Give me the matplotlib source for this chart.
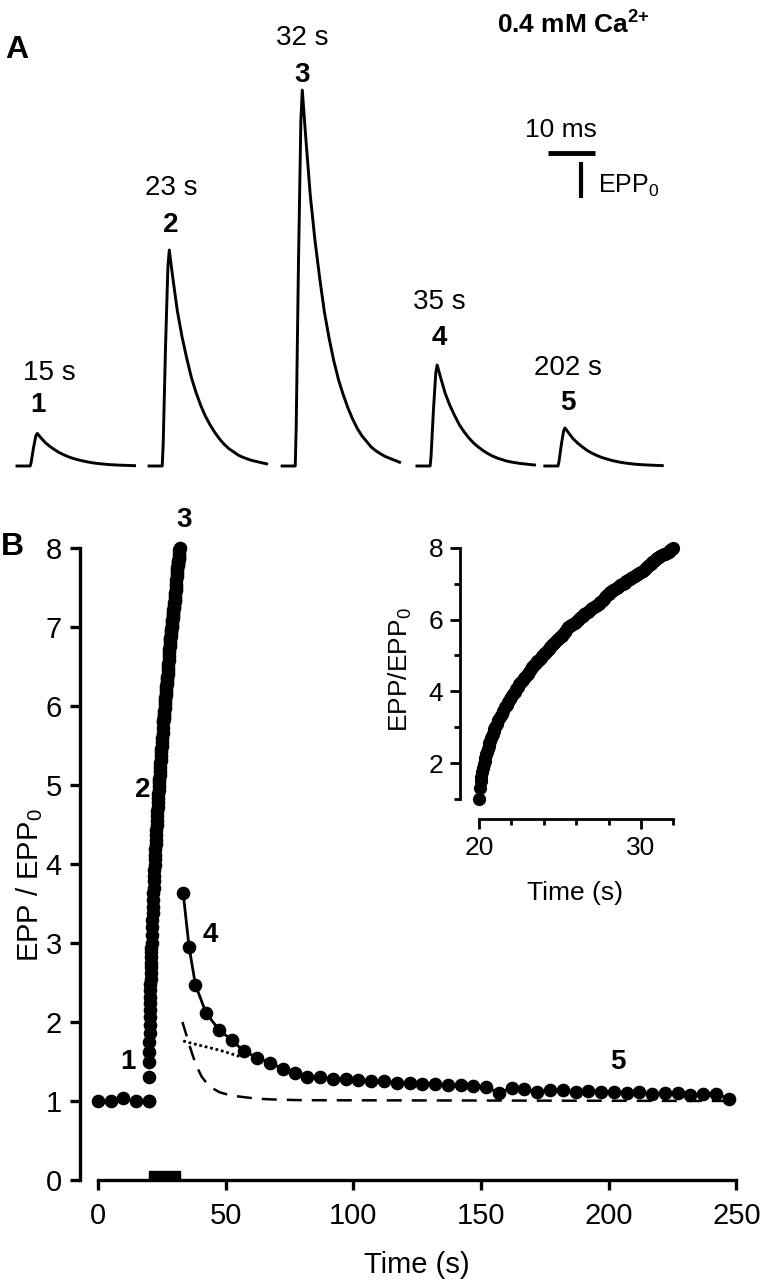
import matplotlib
matplotlib.use("Agg")
import matplotlib.pyplot as plt
from matplotlib import font_manager
from matplotlib.patches import Rectangle

names = {f.name for f in font_manager.fontManager.ttflist}
NARROW = "Liberation Sans Narrow" if "Liberation Sans Narrow" in names else "Liberation Sans"
plt.rcParams["font.family"] = ["Liberation Sans", "DejaVu Sans"]
plt.rcParams["mathtext.fontset"] = "custom"
plt.rcParams["mathtext.rm"] = "Liberation Sans"
plt.rcParams["mathtext.bf"] = "Liberation Sans:bold"
plt.rcParams["mathtext.it"] = "Liberation Sans:italic"

W, H = 761, 1280

# ---- panel A: EPP waveform (normalised to peak), time in ms
wave_t = [0, 1, 2, 2.8, 3.0, 3.5, 4.0, 4.3, 5, 6, 7, 8, 9, 10, 11, 12, 13, 14, 15,
          16, 17, 18, 19, 20, 21, 22, 23, 24, 25]
wave_v = [0, 0, 0, 0, 0.10, 0.55, 0.92, 1.00, 0.88, 0.72, 0.60, 0.50, 0.41, 0.34,
          0.28, 0.23, 0.19, 0.155, 0.125, 0.10, 0.08, 0.065, 0.05, 0.04, 0.032,
          0.025, 0.02, 0.015, 0.01]
trace_nums = ["1", "2", "3", "4", "5"]
trace_secs = ["15 s", "23 s", "32 s", "35 s", "202 s"]
trace_amp = [0.89, 5.9, 10.27, 2.76, 1.04]      # in EPP0 units
trace_start = [0.0, 28.1, 56.4, 85.1, 112.3]    # layout offsets, ms
scale_ms = 10
scale_epp = 1

# ---- panel B
base_t = [0, 5, 10, 15, 20]
base_v = [1.00, 1.00, 1.04, 1.00, 1.00]

# responses during the train (20-32 s)
train_t = [20.00, 20.05, 20.10, 20.15, 20.20, 20.25, 20.30, 20.35, 20.40, 20.45,
           20.50, 20.55, 20.60, 20.65, 20.70, 20.75, 20.80, 20.85, 20.90, 20.95,
           21.0, 21.1, 21.2, 21.3, 21.4, 21.5, 21.6, 21.7, 21.8, 21.9,
           22.0, 22.1, 22.2, 22.3, 22.4, 22.5, 22.6, 22.7, 22.8, 22.9,
           23.0, 23.1, 23.2, 23.3, 23.4, 23.5, 23.6, 23.7, 23.8, 23.9,
           24.0, 24.1, 24.2, 24.3, 24.4, 24.5, 24.6, 24.7, 24.8, 24.9,
           25.0, 25.1, 25.2, 25.3, 25.4, 25.5, 25.6, 25.7, 25.8, 25.9,
           26.0, 26.1, 26.2, 26.3, 26.4, 26.5, 26.6, 26.7, 26.8, 26.9,
           27.0, 27.1, 27.2, 27.3, 27.4, 27.5, 27.6, 27.7, 27.8, 27.9,
           28.0, 28.1, 28.2, 28.3, 28.4, 28.5, 28.6, 28.7, 28.8, 28.9,
           29.0, 29.1, 29.2, 29.3, 29.4, 29.5, 29.6, 29.7, 29.8, 29.9,
           30.0, 30.1, 30.2, 30.3, 30.4, 30.5, 30.6, 30.7, 30.8, 30.9,
           31.0, 31.1, 31.2, 31.3, 31.4, 31.5, 31.6, 31.7, 31.8, 31.9, 32.0]
train_v = [1.00, 1.30, 1.50, 1.62, 1.75, 1.86, 1.96, 2.06, 2.15, 2.24,
           2.32, 2.40, 2.48, 2.55, 2.62, 2.69, 2.75, 2.82, 2.88, 2.94,
           3.00, 3.10, 3.20, 3.29, 3.38, 3.46, 3.55, 3.63, 3.70, 3.78,
           3.85, 3.92, 3.99, 4.06, 4.12, 4.19, 4.25, 4.31, 4.37, 4.43,
           4.49, 4.55, 4.61, 4.67, 4.72, 4.78, 4.83, 4.88, 4.94, 4.99,
           5.04, 5.08, 5.13, 5.18, 5.23, 5.28, 5.32, 5.37, 5.42, 5.46,
           5.50, 5.55, 5.60, 5.66, 5.72, 5.80, 5.82, 5.84, 5.87, 5.90,
           5.94, 5.98, 6.02, 6.06, 6.10, 6.14, 6.18, 6.22, 6.25, 6.28,
           6.31, 6.34, 6.37, 6.40, 6.44, 6.48, 6.53, 6.58, 6.63, 6.68,
           6.72, 6.76, 6.80, 6.83, 6.86, 6.89, 6.92, 6.95, 6.98, 7.00,
           7.03, 7.06, 7.09, 7.12, 7.15, 7.18, 7.21, 7.24, 7.27, 7.30,
           7.33, 7.36, 7.39, 7.43, 7.47, 7.51, 7.55, 7.60, 7.64, 7.68,
           7.72, 7.75, 7.78, 7.80, 7.82, 7.84, 7.86, 7.89, 7.93, 7.97, 8.00]

decay_t = [33.4, 35.7, 38.2, 42.4, 47.5, 52.4, 57.2, 62.3, 67.4, 72.4, 77.1, 82, 87,
           92, 97, 102, 107, 112, 117, 122, 127, 132, 137, 142, 147, 152, 157, 162,
           167, 172, 177, 182, 187, 192, 197, 202, 207, 212, 217, 222, 227, 232, 237,
           242, 247]
decay_v = [3.63, 2.95, 2.47, 2.11, 1.90, 1.77, 1.63, 1.55, 1.48, 1.41, 1.36, 1.31,
           1.30, 1.28, 1.28, 1.27, 1.25, 1.25, 1.23, 1.23, 1.22, 1.21, 1.20, 1.20,
           1.19, 1.18, 1.10, 1.17, 1.15, 1.12, 1.14, 1.14, 1.11, 1.13, 1.12, 1.11,
           1.10, 1.11, 1.09, 1.10, 1.10, 1.08, 1.09, 1.09, 1.03]
fast_t = [33.1, 34.5, 36.0, 37.3, 38.8, 40.6, 43.0, 45.5, 47.7, 52.0, 56.9, 62.0,
          68.0, 80.0, 250.0]
fast_v = [2.00, 1.85, 1.69, 1.56, 1.43, 1.31, 1.21, 1.15, 1.11, 1.07, 1.05, 1.03,
          1.02, 1.01, 1.00]
slow_t = [33.4, 38, 43, 48, 52, 56]
slow_v = [1.76, 1.72, 1.68, 1.64, 1.60, 1.56]
stim_on, stim_off = 20, 32

fig = plt.figure(figsize=(W / 100, H / 100), dpi=100)


def T(x, y, s, **kw):
    kw.setdefault("ha", "center")
    kw.setdefault("va", "center")
    fig.text(x / W, 1 - y / H, s, **kw)


# ---------------- panel A
axA = fig.add_axes([0, 800 / H, 1, 480 / H])
axA.set_xlim(-17 / 4.7, (W - 17) / 4.7)
axA.set_ylim((466 - 480) / 36.6, 466 / 36.6)
axA.axis("off")
for t0, a in zip(trace_start, trace_amp):
    axA.plot([t0 + t for t in wave_t], [a * v for v in wave_v], color="black", lw=2.1)
# scale bars
axA.plot([113, 113 + scale_ms], [8.56, 8.56], color="black", lw=3.5, solid_capstyle="butt")
axA.plot([120, 120], [7.31, 7.31 + scale_epp], color="black", lw=3, solid_capstyle="butt")

T(561, 130, "10 ms", fontsize=19)
T(598, 186, "EPP$_0$", fontsize=18, ha="left")
T(573, 25, r"0.4 mM Ca$^{\mathbf{2{+}}}$", fontsize=19, fontweight="bold", family=NARROW)
T(17, 50, "A", fontsize=23, fontweight="bold")
sec_pos = [(49, 373), (171, 188), (302, 38), (439, 302), (568, 368)]
num_pos = [(38, 405), (171, 225), (302, 75), (439, 338), (568, 403)]
for s, n, (sx, sy), (nx, ny) in zip(trace_secs, trace_nums, sec_pos, num_pos):
    T(sx, sy, s, fontsize=20, family=NARROW)
    T(nx, ny, n, fontsize=20, fontweight="bold", family=NARROW)

# ---------------- panel B
ax = fig.add_axes([80 / W, 100 / H, 682 / W, 663.6 / H])
ax.set_xlim(-7, 260)
ax.set_ylim(0, 8.4)
for sp in ["top", "right"]:
    ax.spines[sp].set_visible(False)
ax.spines["left"].set_bounds(0, 8)
ax.spines["bottom"].set_bounds(0, 250)
for sp in ["left", "bottom"]:
    ax.spines[sp].set_linewidth(2.4)
ax.set_xticks([0, 50, 100, 150, 200, 250])
ax.set_yticks(range(0, 9))
ax.tick_params(width=2.4, length=7, labelsize=21)
ax.tick_params(axis="x", pad=9)
ax.tick_params(axis="y", pad=6)
for lbl in ax.get_xticklabels() + ax.get_yticklabels():
    lbl.set_fontfamily(NARROW)

mk = dict(marker="o", ms=8.8, color="black", ls="none", clip_on=False)
ax.plot(base_t, base_v, **mk)
ax.plot(train_t, train_v, **mk)
ax.plot(decay_t, decay_v, marker="o", ms=8.8, color="black", lw=2)
ax.plot(fast_t, fast_v, color="black", lw=1.8, dashes=(6, 4))
ax.plot(slow_t, slow_v, color="black", lw=2.0, dashes=(1, 1))
ax.add_patch(Rectangle((stim_on, 0), stim_off - stim_on, 0.11, color="black",
                       clip_on=False, zorder=3))

T(12, 547, "B", fontsize=23, fontweight="bold")
T(184, 520, "3", fontsize=20, fontweight="bold", family=NARROW)
T(143, 790, "2", fontsize=20, fontweight="bold", family=NARROW)
T(210, 935, "4", fontsize=20, fontweight="bold", family=NARROW)
T(128, 1062, "1", fontsize=20, fontweight="bold", family=NARROW)
T(618, 1062, "5", fontsize=20, fontweight="bold", family=NARROW)
T(30, 885, "EPP / EPP$_0$", fontsize=21, rotation=90, family=NARROW)
T(417, 1265, "Time (s)", fontsize=21, family=NARROW)

# ---------------- inset
ins = fig.add_axes([460 / W, (H - 819) / H, 221.5 / W, 282 / H])
ins.patch.set_alpha(0)
ins.set_xlim(18.83, 32.5)
ins.set_ylim(0.44, 8.3)
for sp in ["top", "right"]:
    ins.spines[sp].set_visible(False)
ins.spines["left"].set_bounds(1, 8)
ins.spines["bottom"].set_bounds(20, 32)
for sp in ["left", "bottom"]:
    ins.spines[sp].set_linewidth(2)
ins.set_xticks([20, 30])
ins.set_xticks([22, 24, 26, 28, 32], minor=True)
ins.set_yticks([2, 4, 6, 8])
ins.set_yticks([1, 3, 5, 7], minor=True)
ins.tick_params(which="major", width=2, length=7, labelsize=19, pad=5)
ins.tick_params(which="minor", width=2, length=4)
ins.plot(train_t, train_v, marker="o", ms=8.5, color="black", ls="none", clip_on=False)
T(400, 670, "EPP/EPP$_0$", fontsize=19, rotation=90)
T(575, 893, "Time (s)", fontsize=19)

fig.savefig("out.png", dpi=100)
